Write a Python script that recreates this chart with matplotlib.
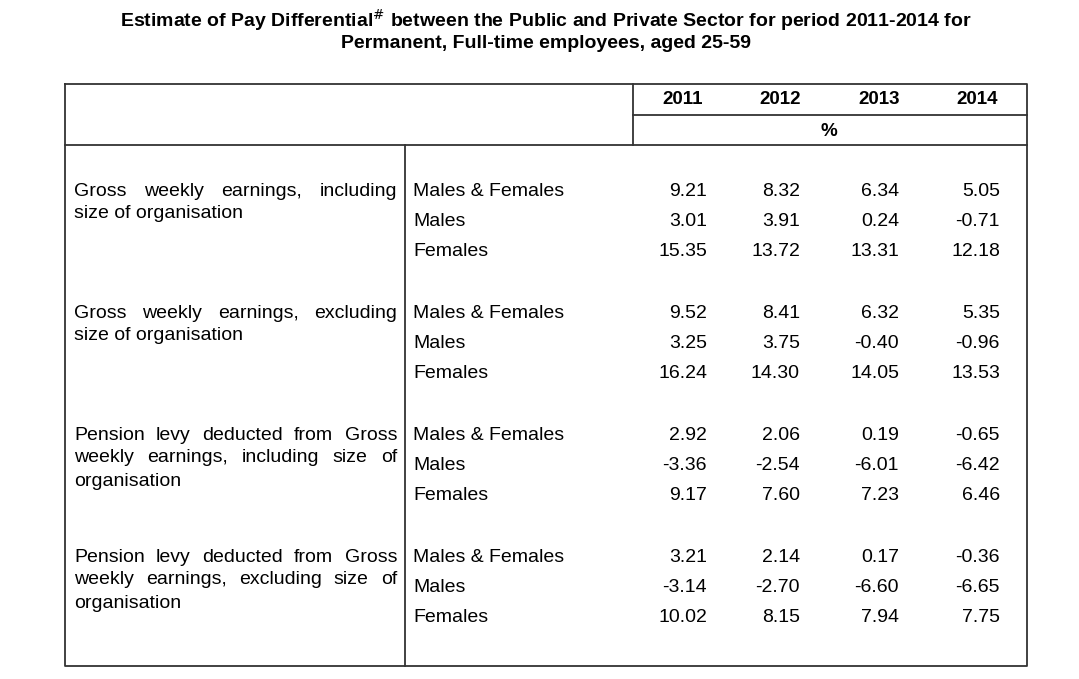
import matplotlib
matplotlib.use("Agg")
import matplotlib.pyplot as plt

plt.rcParams['font.family'] = ['Liberation Sans', 'DejaVu Sans']

years = ["2011", "2012", "2013", "2014"]
sexes = ["Males & Females", "Males", "Females"]
groups = [
    ["Gross weekly earnings, including", "size of organisation"],
    ["Gross weekly earnings, excluding", "size of organisation"],
    ["Pension levy deducted from Gross", "weekly earnings, including size of", "organisation"],
    ["Pension levy deducted from Gross", "weekly earnings, excluding size of", "organisation"],
]
values = [
    [["9.21", "8.32", "6.34", "5.05"], ["3.01", "3.91", "0.24", "-0.71"], ["15.35", "13.72", "13.31", "12.18"]],
    [["9.52", "8.41", "6.32", "5.35"], ["3.25", "3.75", "-0.40", "-0.96"], ["16.24", "14.30", "14.05", "13.53"]],
    [["2.92", "2.06", "0.19", "-0.65"], ["-3.36", "-2.54", "-6.01", "-6.42"], ["9.17", "7.60", "7.23", "6.46"]],
    [["3.21", "2.14", "0.17", "-0.36"], ["-3.14", "-2.70", "-6.60", "-6.65"], ["10.02", "8.15", "7.94", "7.75"]],
]

W, H = 1079, 679
fig = plt.figure(figsize=(W / 100, H / 100), dpi=100)
ax = fig.add_axes([0, 0, 1, 1])
ax.set_xlim(0, W)
ax.set_ylim(H, 0)
ax.axis('off')

fs = 14
ax.text(546, 20, r"Estimate of Pay Differential$^{\#}$ between the Public and Private Sector for period 2011-2014 for",
        ha='center', va='center', fontsize=14, fontweight='bold')
ax.text(546, 44, "Permanent, Full-time employees, aged 25-59",
        ha='center', va='center', fontsize=14, fontweight='bold')

# table lines
lw = 1.3
ax.plot([65, 1027, 1027, 65, 65], [84, 84, 666, 666, 84], color='#333333', lw=lw)
ax.plot([65, 1027], [145, 145], color='#333333', lw=lw)
ax.plot([633, 633], [84, 145], color='#333333', lw=lw)
ax.plot([633, 1027], [115, 115], color='#333333', lw=lw)
ax.plot([405, 405], [145, 666], color='#333333', lw=lw)

year_x = [683, 780, 879, 977]
val_x = [707, 800, 899, 1000]
for x, y in zip(year_x, years):
    ax.text(x, 99, y, ha='center', va='center', fontsize=13.5, fontweight='bold')
ax.text(829, 131, "%", ha='center', va='center', fontsize=13.5, fontweight='bold')

fig.canvas.draw()
renderer = fig.canvas.get_renderer()


def justify(line, y, x0=74, x1=397):
    words = line.split()
    ts = [ax.text(0, y, w, ha='left', va='center', fontsize=fs) for w in words]
    widths = [t.get_window_extent(renderer).width for t in ts]
    gap = (x1 - x0 - sum(widths)) / (len(words) - 1)
    x = x0
    for t, w in zip(ts, widths):
        t.set_x(x)
        x += w + gap


row_step = 30.5
for g, (lab, vals) in enumerate(zip(groups, values)):
    y0 = 191 + g * 122
    for i, line in enumerate(lab):
        yl = y0 + i * 23
        if i < len(lab) - 1:
            justify(line, yl)
        else:
            ax.text(74, yl, line, ha='left', va='center', fontsize=fs)
    for r, (sx, row) in enumerate(zip(sexes, vals)):
        y = y0 + r * row_step
        ax.text(413, y, sx, ha='left', va='center', fontsize=fs)
        for x, v in zip(val_x, row):
            ax.text(x, y, v, ha='right', va='center', fontsize=fs)

fig.savefig("out.png", dpi=100)
